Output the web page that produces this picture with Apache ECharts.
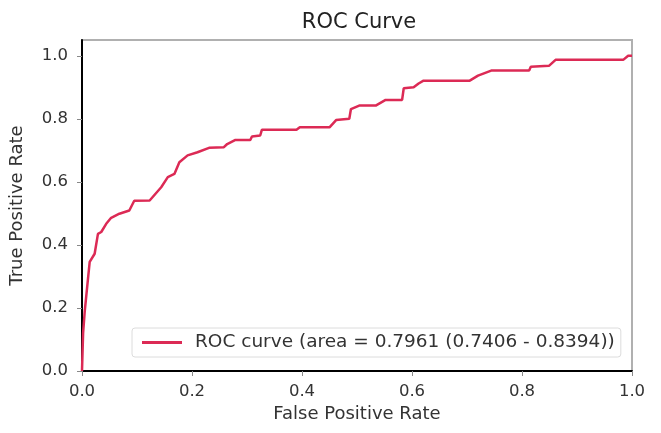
<!DOCTYPE html>
<html><head><meta charset="utf-8">
<script src="https://cdn.jsdelivr.net/npm/echarts@6/dist/echarts.min.js"></script>
<style>html,body{margin:0;padding:0;background:#fff}#c{width:661px;height:433px}</style>
</head><body><div id="c"></div>
<script>
var fpr = [0,0.002,0.005,0.010,0.014,0.023,0.029,0.035,0.044,0.053,0.068,0.086,0.095,0.123,0.144,0.156,0.168,0.177,0.192,0.210,0.231,0.258,0.264,0.279,0.306,0.309,0.324,0.327,0.390,0.396,0.450,0.462,0.486,0.489,0.504,0.534,0.552,0.582,0.585,0.603,0.612,0.621,0.705,0.720,0.744,0.813,0.816,0.849,0.861,0.984,0.993,1.0];
var tpr = [0,0.12,0.19,0.277,0.346,0.372,0.435,0.441,0.467,0.486,0.499,0.509,0.540,0.541,0.583,0.615,0.625,0.662,0.684,0.694,0.708,0.710,0.720,0.733,0.733,0.744,0.747,0.765,0.765,0.773,0.773,0.796,0.800,0.831,0.842,0.842,0.860,0.860,0.897,0.900,0.912,0.921,0.921,0.937,0.953,0.953,0.965,0.968,0.987,0.987,1.0,1.0];
var tickValues = [0,0.2,0.4,0.6,0.8,1.0];
var seriesName = 'ROC curve (area = 0.7961 (0.7406 - 0.8394))';
var titleText = 'ROC Curve';
var xName = 'False Positive Rate';
var yName = 'True Positive Rate';

var pts = fpr.map(function(v,i){return [v,tpr[i]];});
var font = 'DejaVu Sans';
var chart = echarts.init(document.getElementById('c'), null, {renderer:'canvas'});
chart.setOption({
  animation:false,
  title:{text:titleText,left:354,top:7,textAlign:'center',textStyle:{fontFamily:font,fontSize:21,fontWeight:'normal',color:'#222'}},
  grid:{left:77,right:29,top:40,bottom:62,show:true,borderColor:'#b0b0b0',borderWidth:2,backgroundColor:'#fff'},
  legend:{data:[{name:seriesName,icon:'rect'}],left:132,top:328,itemWidth:40,itemHeight:3,itemGap:10,
    padding:[5,6,5,10],borderColor:'#dcdcdc',borderWidth:1,borderRadius:3,backgroundColor:'#fff',
    textStyle:{fontFamily:font,fontSize:18.5,color:'#333',padding:[0,0,0,8]}},
  xAxis:{type:'value',min:0,max:1,interval:0.2,name:xName,nameLocation:'middle',nameGap:34,
    nameTextStyle:{fontFamily:font,fontSize:18,color:'#333'},
    axisLine:{show:true,lineStyle:{color:'#000',width:2}},
    axisTick:{show:true,length:5,lineStyle:{color:'#888'},customValues:tickValues},
    axisLabel:{fontFamily:font,fontSize:16.5,color:'#333',margin:12,customValues:tickValues,formatter:function(v){return v.toFixed(1);}},
    splitLine:{show:false}},
  yAxis:{type:'value',min:0,max:1.05,name:yName,nameLocation:'middle',nameGap:56,
    nameTextStyle:{fontFamily:font,fontSize:18,color:'#333'},
    axisLine:{show:true,lineStyle:{color:'#000',width:2}},
    axisTick:{show:true,length:5,lineStyle:{color:'#888'},customValues:tickValues},
    axisLabel:{fontFamily:font,fontSize:16.5,color:'#333',margin:14,customValues:tickValues,formatter:function(v){return v.toFixed(1);}},
    splitLine:{show:false}},
  series:[{name:seriesName,type:'line',data:pts,showSymbol:false,symbol:'none',
    lineStyle:{color:'#dc2a55',width:2.5},itemStyle:{color:'#dc2a55'},z:3}]
});
</script></body></html>
